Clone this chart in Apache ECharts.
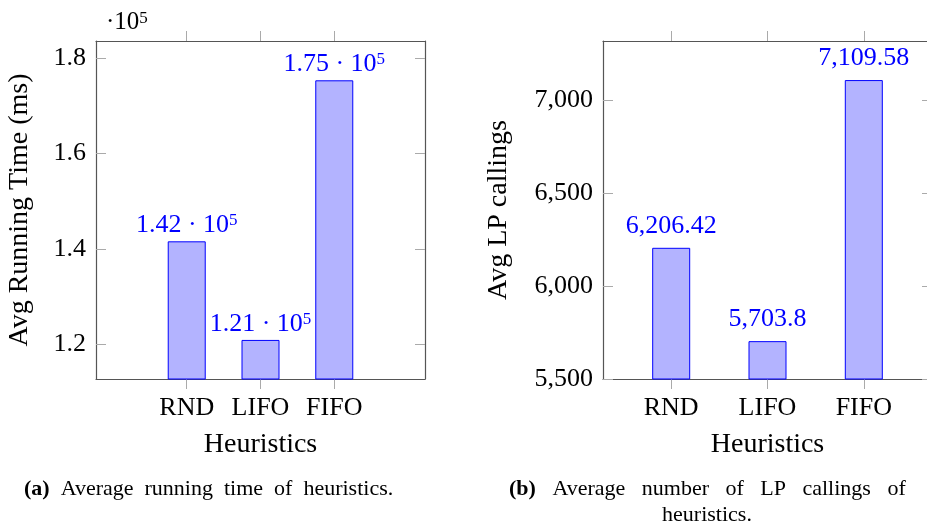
<!DOCTYPE html>
<html>
<head>
<meta charset="utf-8">
<title>Heuristics</title>
<script src="https://cdn.jsdelivr.net/npm/echarts@6/dist/echarts.min.js"></script>
<style>
  html, body { margin: 0; padding: 0; background: #fff; }
  #chart { width: 927px; height: 525px; }
</style>
</head>
<body>
<div id="chart"></div>
<script>
// data
const categories = ['RND', 'LIFO', 'FIFO'];
const catIndex = [0, 1, 2];
const runningTime = [141600, 120900, 175400];   // ms
const lpCallings = [6206.42, 5703.8, 7109.58];
const timeTicks = [120000, 140000, 160000, 180000];
const lpTicks = [5500, 6000, 6500, 7000];

const FONT = '"Liberation Serif", "DejaVu Serif", serif';
const FRAME = '#555';
const TICK = '#aaa';

// one boxed pgfplots-like axis: bottom + top x, left + right y
function frame(g, xMin, xMax, yMin, yMax, yTicks, yFmt, yName, yGap) {
  const xBase = {
    type: 'value', gridIndex: g, min: xMin, max: xMax,
    axisLine: { show: true, onZero: false, lineStyle: { color: FRAME, width: 1.2 } },
    axisTick: { show: true, customValues: catIndex, inside: false, length: 10, lineStyle: { color: TICK } },
    splitLine: { show: false }
  };
  const yBase = {
    type: 'value', gridIndex: g, min: yMin, max: yMax,
    axisLine: { show: true, onZero: false, lineStyle: { color: FRAME, width: 1.2 } },
    axisTick: { show: true, customValues: yTicks, inside: true, length: 10, lineStyle: { color: TICK } },
    splitLine: { show: false }
  };
  return {
    x: [
      Object.assign({}, xBase, {
        position: 'bottom',
        axisLabel: { customValues: catIndex, formatter: (v) => categories[v], margin: 16,
          fontFamily: FONT, fontSize: 26, color: '#000' },
        name: 'Heuristics', nameLocation: 'middle', nameGap: 52,
        nameTextStyle: { fontFamily: FONT, fontSize: 28, color: '#000' }
      }),
      Object.assign({}, xBase, { position: 'top', axisLabel: { show: false } })
    ],
    y: [
      Object.assign({}, yBase, {
        position: 'left',
        axisLabel: { customValues: yTicks, formatter: yFmt, margin: 10,
          fontFamily: FONT, fontSize: 26, color: '#000' },
        name: yName, nameLocation: 'middle', nameGap: yGap,
        nameTextStyle: { fontFamily: FONT, fontSize: 28, color: '#000' }
      }),
      Object.assign({}, yBase, { position: 'right', axisLabel: { show: false } })
    ]
  };
}

const left = frame(0, -1.23, 3.23, 112700, 183650, timeTicks,
  (v) => (v / 1e5).toFixed(1), 'Avg Running Time (ms)', 62);
const right = frame(1, -0.708, 2.708, 5500, 7320, lpTicks,
  (v) => v.toLocaleString('en-US'), 'Avg LP callings', 90);

// invisible helper axis that only carries the "·10^5" note
const multiplierAxis = {
  type: 'value', gridIndex: 0, min: 112700, max: 183650, position: 'left',
  axisLine: { show: false, onZero: false }, axisTick: { show: false }, axisLabel: { show: false },
  splitLine: { show: false },
  name: '{m|·10}{s|5}', nameLocation: 'end', nameGap: 6,
  nameTextStyle: {
    fontFamily: FONT, fontSize: 25, color: '#000', align: 'left', padding: [0, 0, 0, 10],
    rich: {
      m: { fontFamily: FONT, fontSize: 25, color: '#000' },
      s: { fontFamily: FONT, fontSize: 17, color: '#000', verticalAlign: 'top' }
    }
  }
};

const supRich = {
  m: { fontFamily: FONT, fontSize: 26, color: '#0000ff' },
  s: { fontFamily: FONT, fontSize: 17, color: '#0000ff', verticalAlign: 'top' }
};

const captionStyle = {
  fontFamily: FONT, fontSize: 22, fontWeight: 'normal', color: '#000',
  rich: { b: { fontFamily: FONT, fontSize: 22, fontWeight: 'bold', color: '#000' } }
};

const option = {
  animation: false,
  backgroundColor: '#fff',
  grid: [
    { left: 96, top: 41, width: 329, height: 338, outerBoundsMode: 'none' },
    { left: 603, top: 41, width: 329, height: 338, outerBoundsMode: 'none' }
  ],
  xAxis: left.x.concat(right.x),
  yAxis: left.y.concat(right.y, [multiplierAxis]),
  title: [
    {
      text: '{b|(a)}  Average  running  time  of  heuristics.',
      left: 24, top: 478, padding: 0, textStyle: captionStyle
    },
    {
      text: '{b|(b)}   Average   number   of   LP   callings   of',
      left: 509, top: 478, padding: 0, textStyle: captionStyle
    },
    {
      text: 'heuristics.',
      left: 707, textAlign: 'center', top: 504, padding: 0, textStyle: captionStyle
    }
  ],
  series: [
    {
      type: 'bar', xAxisIndex: 0, yAxisIndex: 0,
      data: catIndex.map((i) => [i, runningTime[i]]),
      barWidth: 38,
      itemStyle: { color: '#b3b3ff', borderColor: '#0000ff', borderWidth: 1 },
      label: {
        show: true, position: 'top', distance: 3,
        formatter: (p) => '{m|' + (p.value[1] / 1e5).toFixed(2) + ' · 10}{s|5}',
        rich: supRich
      }
    },
    {
      type: 'bar', xAxisIndex: 2, yAxisIndex: 2,
      data: catIndex.map((i) => [i, lpCallings[i]]),
      barWidth: 38,
      itemStyle: { color: '#b3b3ff', borderColor: '#0000ff', borderWidth: 1 },
      label: {
        show: true, position: 'top', distance: 9,
        formatter: (p) => p.value[1].toLocaleString('en-US'),
        fontFamily: FONT, fontSize: 26, color: '#0000ff'
      }
    }
  ]
};

const chart = echarts.init(document.getElementById('chart'));
chart.setOption(option);
window.addEventListener('resize', () => chart.resize());
</script>
</body>
</html>
